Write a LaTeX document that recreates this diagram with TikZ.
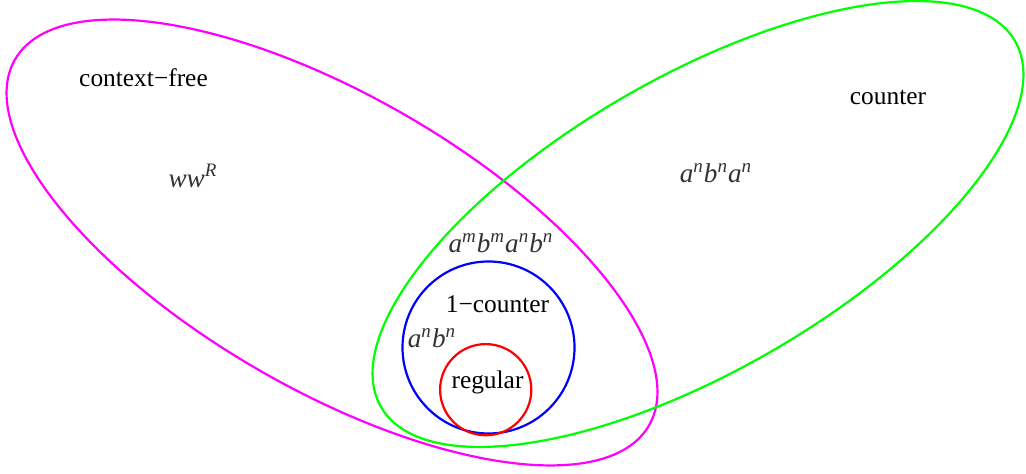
\documentclass[tikz,border=0pt]{standalone}
\usepackage{fontspec}
\setmainfont{Liberation Serif}
\usetikzlibrary{shapes.geometric}
\definecolor{cfpink}{rgb}{1,0,1}
\definecolor{ctrgreen}{rgb}{0,1,0}
\newcommand{\pw}[2]{\textit{#1}\textsuperscript{\textit{#2}}}

\begin{document}
\begin{tikzpicture}[
    x=0.5pt, y=-0.5pt,
    set/.style ={draw, ellipse, line width=1.1pt, inner sep=0pt, minimum width=366pt, minimum height=147pt},
    ring/.style={draw, circle, line width=1.1pt, inner sep=0pt},
    cls/.style ={font=\fontsize{12.7}{15}\selectfont, inner sep=0pt},
    lang/.style={font=\fontsize{13.6}{16}\selectfont, text=black!80, inner sep=0pt}
]
\useasboundingbox (0,0) rectangle (1026,474);

% --- Language classes ---
\node[set, cfpink,   rotate=-30] (cf)  at (332,242.5) {};
\node[set, ctrgreen, rotate=30]  (ctr) at (698,224) {};
\node[ring, blue, minimum size=86pt]  (one) at (488.5,347.5) {};
\node[ring, red,  minimum size=45.6pt] (reg) at (485.7,389.7) {};

% --- Class names ---
\node[cls] (cflabel)  at (143.5,78)  {context−free};
\node[cls] (ctrlabel) at (888,97)    {counter};
\node[cls] (onelabel) at (497.5,304) {1−counter};
\node[cls] (reglabel) at (487.5,382) {regular};

% --- Example languages ---
\node[lang] (wwr)    at (193,176) {\textit{w}\pw{w}{R}};
\node[lang] (anbnan) at (716,173) {\pw{a}{n}\pw{b}{n}\pw{a}{n}};
\node[lang] (ambm)   at (501,243) {\pw{a}{m}\pw{b}{m}\pw{a}{n}\pw{b}{n}};
\node[lang] (anbn)   at (432,338) {\pw{a}{n}\pw{b}{n}};

\end{tikzpicture}
\end{document}
